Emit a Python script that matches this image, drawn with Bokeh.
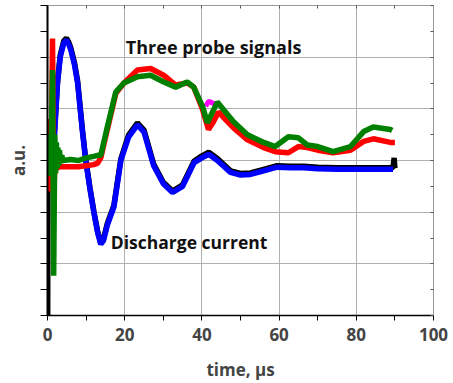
from bokeh.plotting import figure
from bokeh.models import Range1d, LinearAxis, FixedTicker, Label, CustomJSTickFormatter
from bokeh.embed import file_html
from bokeh.resources import INLINE

# ---- data (y in arbitrary units, baseline = 3) ----
cur_t = [0.0, 0.5, 1.0, 1.8, 2.6, 3.3, 4.2, 4.9, 5.5, 6.0, 7.0, 7.8, 9.0, 9.9, 11.0, 12.0, 13.0, 13.8, 14.5,
         15.5, 17.2, 19.0, 21.0, 23.3, 25.0, 27.5, 30.0, 32.4, 35.0, 38.0, 40.0, 41.8, 44.0,
         47.4, 50.0, 52.6, 56.0, 59.5, 63.0, 66.4, 70.0, 75.0, 80.0, 85.0, 89.5]
cur_v = [3.0, 3.0, 3.05, 3.5, 4.5, 5.0, 5.27, 5.33, 5.25, 5.15, 4.85, 4.5, 3.6, 3.0, 2.45, 2.0, 1.6, 1.38, 1.45,
         1.75, 2.1, 3.0, 3.45, 3.69, 3.55, 2.9, 2.55, 2.38, 2.5, 2.96, 3.05, 3.12, 3.0,
         2.77, 2.72, 2.73, 2.8, 2.87, 2.86, 2.86, 2.84, 2.83, 2.83, 2.83, 2.83]

blk_t = [0.0, 0.05, 0.1, 0.15, 0.5, 1.0, 1.8, 2.6, 3.3, 4.2, 4.9, 5.5, 6.0, 7.0, 7.8, 9.0, 9.9, 11.0, 12.0, 13.0,
         13.8, 14.5, 15.5, 17.2, 19.0, 21.0, 23.3, 25.0, 27.5, 30.0, 32.4, 35.0, 38.0, 40.0, 41.8, 44.0,
         47.4, 50.0, 52.6, 56.0, 59.5, 63.0, 66.4, 70.0, 75.0, 80.0, 85.0, 89.5, 89.8, 90.0]
blk_v = [3.8, 0.0, 3.0, 3.0, 3.0, 3.05, 3.53, 4.54, 5.04, 5.31, 5.37, 5.29, 5.19, 4.89, 4.54, 3.63, 3.02, 2.47, 2.02, 1.62,
         1.41, 1.48, 1.78, 2.13, 3.03, 3.49, 3.73, 3.59, 2.93, 2.58, 2.41, 2.53, 2.99, 3.09, 3.16, 3.04,
         2.8, 2.75, 2.76, 2.83, 2.9, 2.89, 2.89, 2.87, 2.86, 2.86, 2.86, 2.86, 3.05, 2.85]

red_t = [0.0, 0.3, 0.6, 1.0, 1.3, 1.6, 2.0, 2.5, 3.0, 5.0, 8.0, 10.0, 12.0, 13.0, 13.8, 15.5, 17.7, 19.8,
         23.3, 26.7, 30.1, 33.2, 36.2, 37.9, 40.2, 41.7, 43.0, 44.3, 46.0, 48.2, 51.8, 56.0, 59.0,
         62.4, 65.0, 67.3, 70.0, 74.0, 78.5, 81.9, 84.4, 88.8, 90.0]
red_v = [3.0, 3.8, 2.4, 3.2, 5.36, 2.3, 3.1, 2.85, 2.88, 2.88, 2.88, 2.9, 2.92, 2.95, 3.05, 3.6, 4.3, 4.5,
         4.75, 4.78, 4.65, 4.46, 4.5, 4.42, 3.98, 3.6, 3.75, 3.94, 3.8, 3.63, 3.4, 3.25, 3.17,
         3.15, 3.27, 3.25, 3.2, 3.15, 3.2, 3.37, 3.42, 3.35, 3.35]

grn_t = [0.0, 0.2, 0.4, 0.6, 0.8, 1.0, 1.3, 1.6, 1.9, 2.1, 2.3, 2.5, 2.7, 2.9, 3.1, 3.4, 3.7, 4.0, 6.0, 8.0,
         10.0, 12.0, 13.0, 13.8, 15.5, 17.7, 19.8, 23.3, 26.7, 30.1, 33.2, 36.2, 37.9, 40.2, 41.4, 44.0,
         46.0, 48.2, 51.8, 56.0, 59.0, 62.4, 65.0, 67.3, 70.0, 74.0, 78.5, 81.9, 84.4, 88.8, 89.3]
grn_v = [3.0, 3.5, 2.7, 3.45, 2.8, 3.4, 4.75, 0.77, 3.5, 2.75, 3.35, 2.85, 3.25, 2.9, 3.2, 2.95, 3.1, 3.0,
         3.02, 3.0, 3.05, 3.08, 3.1, 3.1, 3.65, 4.33, 4.5, 4.62, 4.65, 4.52, 4.42, 4.52, 4.42, 4.04,
         3.73, 4.13, 3.95, 3.75, 3.5, 3.35, 3.27, 3.46, 3.44, 3.3, 3.27, 3.17, 3.27, 3.56, 3.65, 3.6, 3.58]

mag_t = [41.0, 41.8, 42.5, 43.2]
mag_v = [4.05, 4.15, 4.12, 4.1]

x_major = [0, 20, 40, 60, 80, 100]
x_minor = [10, 30, 50, 70, 90]
y_major = [0, 1, 2, 3, 4, 5, 6]
y_minor = [0.5, 1.5, 2.5, 3.5, 4.5, 5.5]

FONT = "Open Sans"

p = figure(width=453, height=383, output_backend="svg", toolbar_location=None,
           x_range=Range1d(0, 100), y_range=Range1d(0, 6),
           min_border_left=47, min_border_right=20, min_border_top=5, min_border_bottom=66)
p.background_fill_color = "white"
p.outline_line_color = "#999999"

# grid
p.xgrid.ticker = FixedTicker(ticks=x_major)
p.ygrid.ticker = FixedTicker(ticks=y_major)
p.xgrid.grid_line_color = "#b0b0b0"
p.ygrid.grid_line_color = "#b0b0b0"

# bottom axis
xa = p.xaxis[0]
xa.ticker = FixedTicker(ticks=x_major, minor_ticks=x_minor)
xa.axis_label = "time, \u03bcs"
xa.axis_label_text_font = FONT
xa.axis_label_text_font_style = "bold"
xa.axis_label_text_font_size = "17px"
xa.axis_label_standoff = 14
xa.major_label_text_font = FONT
xa.major_label_text_font_style = "bold"
xa.major_label_text_font_size = "17px"
xa.major_label_standoff = 7
xa.axis_line_color = "black"
xa.axis_line_width = 1.5
xa.major_tick_in = 0
xa.major_tick_out = 5
xa.minor_tick_in = 0
xa.minor_tick_out = 5

# left axis
ya = p.yaxis[0]
ya.ticker = FixedTicker(ticks=y_major, minor_ticks=y_minor)
ya.formatter = CustomJSTickFormatter(code="return ''")
ya.axis_label = "a.u."
ya.axis_label_text_font = FONT
ya.axis_label_text_font_style = "bold"
ya.axis_label_text_font_size = "17px"
ya.axis_label_standoff = 11
ya.axis_line_color = "black"
ya.axis_line_width = 2
ya.major_tick_in = 0
ya.major_tick_out = 7
ya.minor_tick_in = 0
ya.minor_tick_out = 7

# top and right axes with inward ticks
top = LinearAxis(ticker=FixedTicker(ticks=x_major, minor_ticks=x_minor),
                 formatter=CustomJSTickFormatter(code="return ''"),
                 axis_line_color="#999999", major_tick_in=3, major_tick_out=0,
                 minor_tick_in=3, minor_tick_out=0, major_tick_line_color="#555555",
                 minor_tick_line_color="#555555", major_label_text_font_size="0px")
right = LinearAxis(ticker=FixedTicker(ticks=y_major, minor_ticks=y_minor),
                   formatter=CustomJSTickFormatter(code="return ''"),
                   axis_line_color="#999999", major_tick_in=3, major_tick_out=0,
                   minor_tick_in=3, minor_tick_out=0, major_tick_line_color="#555555",
                   minor_tick_line_color="#555555", major_label_text_font_size="0px")
p.add_layout(top, "above")
p.add_layout(right, "right")

# traces
p.line(blk_t, blk_v, line_color="black", line_width=5.5)
p.line(cur_t, cur_v, line_color="#0000ff", line_width=5.5)
p.line(red_t, red_v, line_color="#ff0000", line_width=5.5)
p.line(mag_t, mag_v, line_color="#ff00ff", line_width=5)
p.line(grn_t, grn_v, line_color="#008000", line_width=5.5)

p.add_layout(Label(x=20.3, y=5.2, text="Three probe signals", text_font=FONT,
                   text_font_style="bold", text_font_size="18px", text_baseline="middle",
                   text_color="#111111"))
p.add_layout(Label(x=16.4, y=1.42, text="Discharge current", text_font=FONT,
                   text_font_style="bold", text_font_size="17.5px", text_baseline="middle",
                   text_color="#111111"))

open("out.html", "w").write(file_html(p, INLINE))
